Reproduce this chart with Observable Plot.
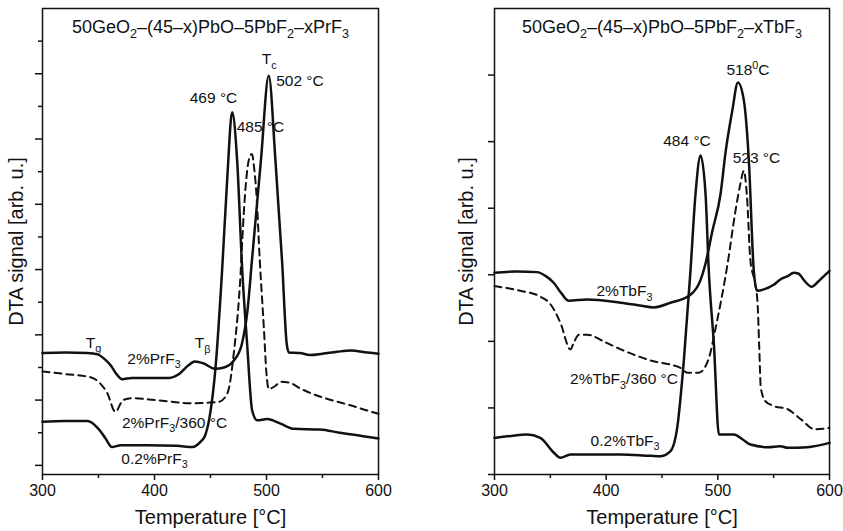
<!DOCTYPE html>
<html>
<head>
<meta charset="utf-8">
<script src="https://cdn.jsdelivr.net/npm/d3@7"></script>
<script src="https://cdn.jsdelivr.net/npm/@observablehq/plot@0.6"></script>
<style>
  body { margin: 0; background: white; }
  #c { display: flex; width: 843px; height: 531px; }
</style>
</head>
<body>
<div id="c"></div>
<script>
// ---------- data ----------
const xTicks = [300, 400, 500, 600];
const xMinor = [350, 450, 550];

// Left panel: 50GeO2-(45-x)PbO-5PbF2-xPrF3
const prTitle = "50GeO_2–(45–x)PbO–5PbF_2–xPrF_3";
const prT_2 = [300,320,340,349,356,361,366,371,380,395,413,422,430,436,444,454,462,471,478,483,487,495,502,508,514,518,520,530,539,550,563,575,590,600];
const prV_2 = [1.72,1.73,1.72,1.70,1.62,1.53,1.40,1.32,1.34,1.34,1.34,1.40,1.53,1.59,1.56,1.48,1.50,1.61,1.86,2.37,3.14,4.67,5.97,4.67,3.10,1.87,1.73,1.72,1.69,1.71,1.74,1.76,1.73,1.71];
const prT_360 = [300,320,343,350,358,365,372,381,395,413,431,446,457,465,471,477,479,481.5,484.5,487,489,491,494,497.6,500,502,508,513,520,530,545,560,575,590,600];
const prV_360 = [1.44,1.40,1.35,1.28,1.10,0.82,1.00,1.03,1.01,0.98,0.95,0.96,0.97,1.10,1.75,2.98,3.65,4.30,4.70,4.77,4.55,4.16,3.14,2.12,1.40,1.17,1.22,1.28,1.27,1.18,1.07,0.99,0.92,0.84,0.79];
const prT_02 = [300,320,340,350,356,362,370,393,420,434,441,445,449,454.5,460.4,465,469.3,473.8,478.3,482.7,487.2,491.7,500.6,512.5,524.4,548,565,585,600];
const prV_02 = [0.67,0.68,0.68,0.56,0.42,0.28,0.31,0.31,0.30,0.28,0.36,0.45,0.72,1.50,3.00,4.41,5.41,4.67,3.00,1.86,0.84,0.69,0.71,0.64,0.56,0.55,0.50,0.45,0.41];
const prNotes = ["T_c","502 °C","469 °C","485 °C","T_g","2%PrF_3","T_β","2%PrF_3/360 °C","0.2%PrF_3"];
const prNoteT = [502.5, 529.9, 452.7, 494.6, 345.5, 399.6, 442.9, 417.9, 400];
const prNoteV = [6.22, 5.89, 5.63, 5.19, 1.88, 1.63, 1.87, 0.65, 0.10];
const prYMajor = [0,1,2,3,4,5,6];
const prYMinor = [0.5,1.5,2.5,3.5,4.5,5.5,6.5];

// Right panel: 50GeO2-(45-x)PbO-5PbF2-xTbF3
const tbTitle = "50GeO_2–(45–x)PbO–5PbF_2–xTbF_3";
const tbT_2 = [300,320,338,346,353,360,366.5,383,413,430,442.7,457.6,475.5,484.5,489,495,502.4,507,512.9,518,523.3,527.8,532.2,535.2,541.2,550,556,562.6,568,572,578,584,590,595,600];
const tbV_2 = [3.03,3.05,3.04,2.98,2.88,2.72,2.61,2.63,2.58,2.54,2.51,2.58,2.70,2.92,3.17,3.65,4.21,4.85,5.46,5.89,5.62,4.71,3.06,2.76,2.78,2.85,2.93,2.98,3.03,3.02,2.90,2.82,2.90,2.98,3.06];
const tbT_360 = [300,323,340,350,359,368,371,375.5,383,400,413,428,442.7,457.6,466.6,472.6,483,492,498,508.4,515.8,520,523.3,526,529.2,533,535.5,537,538.5,542.6,550,562.6,575,586.5,600];
const tbV_360 = [2.83,2.76,2.68,2.56,2.28,1.88,1.98,2.10,2.10,1.98,1.88,1.78,1.70,1.65,1.60,1.53,1.53,1.75,2.20,3.13,3.96,4.35,4.56,4.20,3.21,2.90,2.60,1.95,1.30,1.10,1.03,0.98,0.82,0.68,0.70];
const tbT_02 = [300,315,329,341,353,359,368,413,440,449,457.6,463.6,469.5,475.5,480,484.5,489,491.9,496.5,501,514.4,522,529.3,545,556,562.6,580,600];
const tbV_02 = [0.55,0.58,0.60,0.55,0.33,0.25,0.30,0.30,0.28,0.275,0.35,0.70,1.70,3.06,4.21,4.79,4.21,3.06,1.95,0.60,0.60,0.53,0.45,0.41,0.425,0.40,0.41,0.475];
const tbNotes = ["518^0C","484 °C","523 °C","2%TbF_3","2%TbF_3/360 °C","0.2%TbF_3"];
const tbNoteT = [527, 472.4, 534.6, 416.4, 416, 416.9];
const tbNoteV = [6.07, 5.01, 4.75, 2.75, 1.43, 0.51];
const tbYMajor = [0,1,2,3,4,5,6];

const xLabel = "Temperature [°C]";
const yLabel = "DTA signal [arb. u.]";

// ---------- drawing ----------
const FONT = "'Liberation Sans', Arial, Helvetica, sans-serif";
const INK = "#111";

function panel({width, marginLeft, marginRight, yDomain, yMajor, yMinor, title, series, notes, noteT, noteV, yLabelDx}) {
  const marks = [
    Plot.frame({stroke: INK, strokeWidth: 1.5}),
    Plot.axisX({ticks: xTicks, tickSize: 6, tickPadding: 4, tickFormat: d => String(d), label: null, stroke: INK, strokeWidth: 1.5, fontSize: 16}),
    Plot.axisX({ticks: xMinor, tickSize: 4, tickFormat: () => "", label: null, stroke: INK, strokeWidth: 1.5}),
    Plot.axisY({ticks: yMajor, tickSize: yMinor ? 7 : 6, tickFormat: () => "", label: null, stroke: INK, strokeWidth: 1.5})
  ];
  if (yMinor) marks.push(Plot.axisY({ticks: yMinor, tickSize: 4, tickFormat: () => "", label: null, stroke: INK, strokeWidth: 1.5}));
  for (const s of series) {
    marks.push(Plot.line(s.t, {x: s.t, y: s.v, stroke: INK, strokeWidth: s.dashed ? 2 : 2.5, strokeDasharray: s.dashed ? "7,5" : null, curve: "monotone-x"}));
  }
  marks.push(Plot.text(notes, {x: noteT, y: noteV, text: d => d, fontSize: 15.5, fill: INK, textAnchor: "middle"}));
  marks.push(Plot.text([title], {frameAnchor: "top", dy: 19, text: d => d, fontSize: 18, fill: INK, textAnchor: "middle", lineAnchor: "middle"}));
  marks.push(Plot.text([xLabel], {frameAnchor: "bottom", dy: 43, text: d => d, fontSize: 20, fill: INK, textAnchor: "middle", lineAnchor: "middle"}));
  marks.push(Plot.text([yLabel], {frameAnchor: "left", dx: yLabelDx, rotate: -90, text: d => d, fontSize: 20, fill: INK, textAnchor: "middle", lineAnchor: "middle"}));
  return Plot.plot({
    width, height: 531,
    marginLeft, marginRight, marginTop: 8, marginBottom: 57,
    style: {fontFamily: FONT, fontSize: "16px", color: INK, background: "white", overflow: "visible"},
    x: {domain: [300, 600]},
    y: {domain: yDomain},
    marks
  });
}

// turn "_x" into subscript and "^x" into superscript tspans
function richify(svg) {
  const ns = "http://www.w3.org/2000/svg";
  svg.querySelectorAll("text").forEach(t => {
    const s = t.textContent;
    if (!/[_^]/.test(s)) return;
    const fs = parseFloat(getComputedStyle(t).fontSize) || 16;
    while (t.firstChild) t.removeChild(t.firstChild);
    let cur = 0;
    const add = (str, shift, small) => {
      if (!str) return;
      const ts = document.createElementNS(ns, "tspan");
      ts.textContent = str;
      const d = shift - cur;
      if (d) ts.setAttribute("dy", d.toFixed(2));
      cur = shift;
      if (small) ts.setAttribute("font-size", (fs * 0.7).toFixed(1));
      t.appendChild(ts);
    };
    let buf = "";
    for (let i = 0; i < s.length; i++) {
      const ch = s[i];
      if ((ch === "_" || ch === "^") && i + 1 < s.length) {
        add(buf, 0, false); buf = "";
        add(s[i + 1], ch === "_" ? fs * 0.28 : -fs * 0.42, true);
        i++;
      } else buf += ch;
    }
    add(buf, 0, false);
  });
}

const left = panel({
  width: 421, marginLeft: 42, marginRight: 43,
  yDomain: [-0.14, 7], yMajor: prYMajor, yMinor: prYMinor,
  title: prTitle,
  series: [
    {t: prT_2, v: prV_2},
    {t: prT_360, v: prV_360, dashed: true},
    {t: prT_02, v: prV_02}
  ],
  notes: prNotes, noteT: prNoteT, noteV: prNoteV, yLabelDx: -26
});
const right = panel({
  width: 422, marginLeft: 73, marginRight: 14,
  yDomain: [0, 7], yMajor: tbYMajor, yMinor: null,
  title: tbTitle,
  series: [
    {t: tbT_2, v: tbV_2},
    {t: tbT_360, v: tbV_360, dashed: true},
    {t: tbT_02, v: tbV_02}
  ],
  notes: tbNotes, noteT: tbNoteT, noteV: tbNoteV, yLabelDx: -28
});
const c = document.getElementById("c");
c.appendChild(left);
c.appendChild(right);
richify(left);
richify(right);
</script>
</body>
</html>
